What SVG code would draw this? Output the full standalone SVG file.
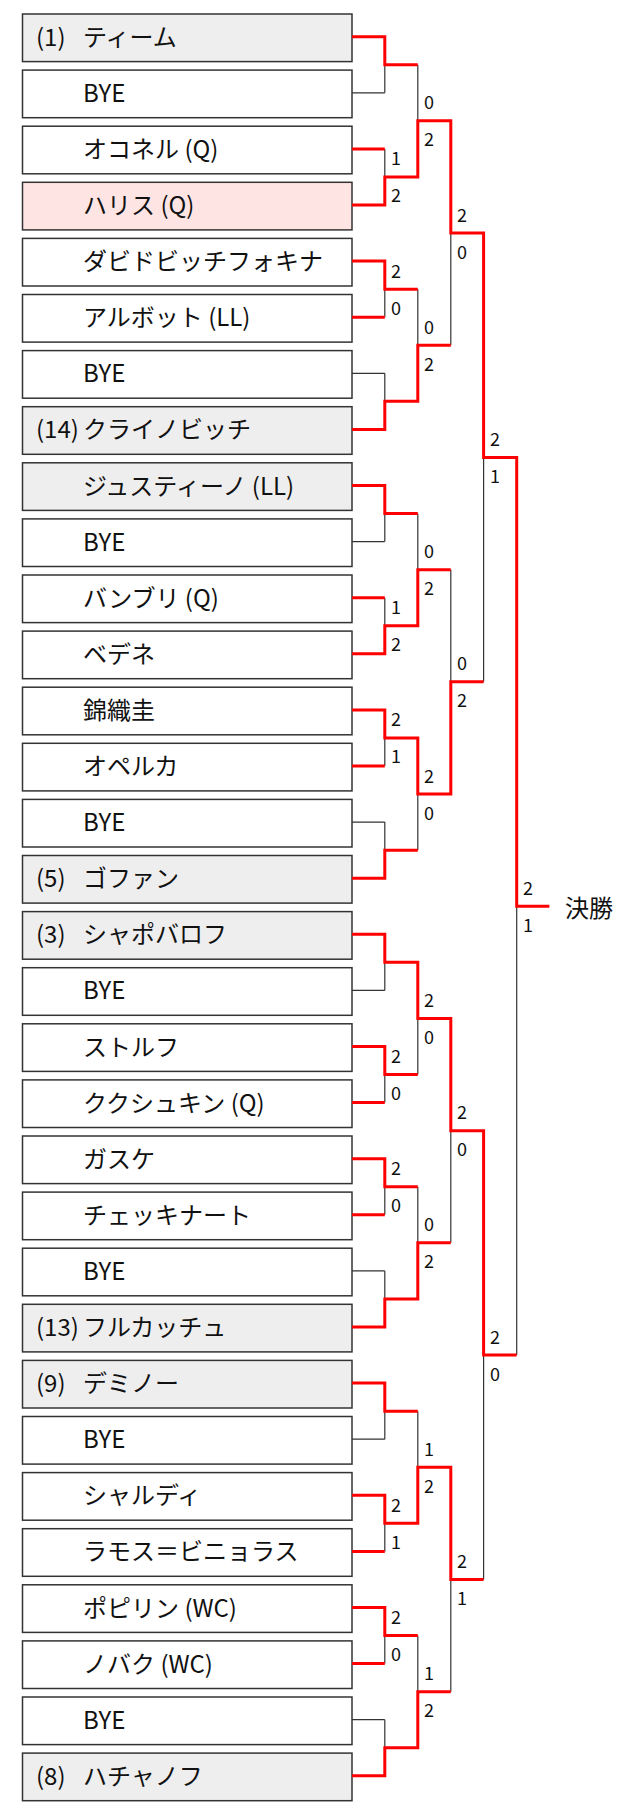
<svg xmlns="http://www.w3.org/2000/svg" width="630" height="1815" viewBox="0 0 630 1815">
<style>
.box{stroke:#333;stroke-width:1.5}
.w{fill:#fff}.g{fill:#eeeeee}.p{fill:#ffe4e4}
.nm{font-family:"Noto Sans CJK JP","Noto Sans",sans-serif;font-size:24px;fill:#111}
.sc{font-family:"Noto Sans CJK JP","Noto Sans",sans-serif;font-size:18px;fill:#111}
.thin{fill:none;stroke:#333;stroke-width:1.2}
.red{fill:none;stroke:#ff0000;stroke-width:3;stroke-linejoin:miter}
</style>
<rect width="630" height="1815" fill="#fff"/>
<g id="players">
<g id="p0"><rect class="box g" x="22.5" y="14" width="329.5" height="47.6"/><text class="nm" x="36" y="45.7">(1)</text><text class="nm" x="83" y="45.7">ティーム</text></g>
<g id="p1"><rect class="box w" x="22.5" y="70.1" width="329.5" height="47.6"/><text class="nm" x="83" y="101.8">BYE</text></g>
<g id="p2"><rect class="box w" x="22.5" y="126.2" width="329.5" height="47.6"/><text class="nm" x="83" y="157.9">オコネル (Q)</text></g>
<g id="p3"><rect class="box p" x="22.5" y="182.3" width="329.5" height="47.6"/><text class="nm" x="83" y="214">ハリス (Q)</text></g>
<g id="p4"><rect class="box w" x="22.5" y="238.4" width="329.5" height="47.6"/><text class="nm" x="83" y="270.1">ダビドビッチフォキナ</text></g>
<g id="p5"><rect class="box w" x="22.5" y="294.5" width="329.5" height="47.6"/><text class="nm" x="83" y="326.2">アルボット (LL)</text></g>
<g id="p6"><rect class="box w" x="22.5" y="350.6" width="329.5" height="47.6"/><text class="nm" x="83" y="382.3">BYE</text></g>
<g id="p7"><rect class="box g" x="22.5" y="406.7" width="329.5" height="47.6"/><text class="nm" x="36" y="438.4">(14)</text><text class="nm" x="83" y="438.4">クライノビッチ</text></g>
<g id="p8"><rect class="box g" x="22.5" y="462.8" width="329.5" height="47.6"/><text class="nm" x="83" y="494.5">ジュスティーノ (LL)</text></g>
<g id="p9"><rect class="box w" x="22.5" y="518.9" width="329.5" height="47.6"/><text class="nm" x="83" y="550.6">BYE</text></g>
<g id="p10"><rect class="box w" x="22.5" y="575" width="329.5" height="47.6"/><text class="nm" x="83" y="606.7">バンブリ (Q)</text></g>
<g id="p11"><rect class="box w" x="22.5" y="631.1" width="329.5" height="47.6"/><text class="nm" x="83" y="662.8">ベデネ</text></g>
<g id="p12"><rect class="box w" x="22.5" y="687.2" width="329.5" height="47.6"/><text class="nm" x="83" y="718.9">錦織圭</text></g>
<g id="p13"><rect class="box w" x="22.5" y="743.3" width="329.5" height="47.6"/><text class="nm" x="83" y="775">オペルカ</text></g>
<g id="p14"><rect class="box w" x="22.5" y="799.4" width="329.5" height="47.6"/><text class="nm" x="83" y="831.1">BYE</text></g>
<g id="p15"><rect class="box g" x="22.5" y="855.5" width="329.5" height="47.6"/><text class="nm" x="36" y="887.2">(5)</text><text class="nm" x="83" y="887.2">ゴファン</text></g>
<g id="p16"><rect class="box g" x="22.5" y="911.6" width="329.5" height="47.6"/><text class="nm" x="36" y="943.3">(3)</text><text class="nm" x="83" y="943.3">シャポバロフ</text></g>
<g id="p17"><rect class="box w" x="22.5" y="967.7" width="329.5" height="47.6"/><text class="nm" x="83" y="999.4">BYE</text></g>
<g id="p18"><rect class="box w" x="22.5" y="1023.8" width="329.5" height="47.6"/><text class="nm" x="83" y="1055.5">ストルフ</text></g>
<g id="p19"><rect class="box w" x="22.5" y="1079.9" width="329.5" height="47.6"/><text class="nm" x="83" y="1111.6">ククシュキン (Q)</text></g>
<g id="p20"><rect class="box w" x="22.5" y="1136" width="329.5" height="47.6"/><text class="nm" x="83" y="1167.7">ガスケ</text></g>
<g id="p21"><rect class="box w" x="22.5" y="1192.1" width="329.5" height="47.6"/><text class="nm" x="83" y="1223.8">チェッキナート</text></g>
<g id="p22"><rect class="box w" x="22.5" y="1248.2" width="329.5" height="47.6"/><text class="nm" x="83" y="1279.9">BYE</text></g>
<g id="p23"><rect class="box g" x="22.5" y="1304.3" width="329.5" height="47.6"/><text class="nm" x="36" y="1336">(13)</text><text class="nm" x="83" y="1336">フルカッチュ</text></g>
<g id="p24"><rect class="box g" x="22.5" y="1360.4" width="329.5" height="47.6"/><text class="nm" x="36" y="1392.1">(9)</text><text class="nm" x="83" y="1392.1">デミノー</text></g>
<g id="p25"><rect class="box w" x="22.5" y="1416.5" width="329.5" height="47.6"/><text class="nm" x="83" y="1448.2">BYE</text></g>
<g id="p26"><rect class="box w" x="22.5" y="1472.6" width="329.5" height="47.6"/><text class="nm" x="83" y="1504.3">シャルディ</text></g>
<g id="p27"><rect class="box w" x="22.5" y="1528.7" width="329.5" height="47.6"/><text class="nm" x="83" y="1560.4">ラモス＝ビニョラス</text></g>
<g id="p28"><rect class="box w" x="22.5" y="1584.8" width="329.5" height="47.6"/><text class="nm" x="83" y="1616.5">ポピリン (WC)</text></g>
<g id="p29"><rect class="box w" x="22.5" y="1640.9" width="329.5" height="47.6"/><text class="nm" x="83" y="1672.6">ノバク (WC)</text></g>
<g id="p30"><rect class="box w" x="22.5" y="1697" width="329.5" height="47.6"/><text class="nm" x="83" y="1728.7">BYE</text></g>
<g id="p31"><rect class="box g" x="22.5" y="1753.1" width="329.5" height="47.6"/><text class="nm" x="36" y="1784.8">(8)</text><text class="nm" x="83" y="1784.8">ハチャノフ</text></g>
</g>
<g id="connectors">
<g id="thin-lines" class="thin">
<path d="M352 92.8H384.8M352 373.3H384.8M352 541.6H384.8M352 822.1H384.8M352 990.4H384.8M352 1270.9H384.8M352 1439.2H384.8M352 1719.7H384.8"/>
<path d="M384.8 36.7V92.8M384.8 148.9V205M384.8 261.1V317.2M384.8 373.3V429.4M384.8 485.5V541.6M384.8 597.7V653.8M384.8 709.9V766M384.8 822.1V878.2M384.8 934.3V990.4M384.8 1046.5V1102.6M384.8 1158.7V1214.8M384.8 1270.9V1327M384.8 1383.1V1439.2M384.8 1495.3V1551.4M384.8 1607.5V1663.6M384.8 1719.7V1775.8"/>
<path d="M417.8 64.75V176.95M417.8 289.15V401.35M417.8 513.55V625.75M417.8 737.95V850.15M417.8 962.35V1074.55M417.8 1186.75V1298.95M417.8 1411.15V1523.35M417.8 1635.55V1747.75"/>
<path d="M450.8 120.85V345.25M450.8 569.65V794.05M450.8 1018.45V1242.85M450.8 1467.25V1691.65"/>
<path d="M483.6 233.05V681.85M483.6 1130.65V1579.45"/>
<path d="M516.7 457.45V1355.05"/>
</g>
<g id="red-lines" class="red">
<path d="M352 36.7H384.8V64.75H417.8"/>
<path d="M352 148.9H384.8"/>
<path d="M352 205H384.8V176.95H417.8V120.85H450.8V233.05H483.6V457.45H516.7V906.25H549.4"/>
<path d="M352 261.1H384.8V289.15H417.8"/>
<path d="M352 317.2H384.8"/>
<path d="M352 429.4H384.8V401.35H417.8V345.25H450.8"/>
<path d="M352 485.5H384.8V513.55H417.8"/>
<path d="M352 597.7H384.8"/>
<path d="M352 653.8H384.8V625.75H417.8V569.65H450.8"/>
<path d="M352 709.9H384.8V737.95H417.8V794.05H450.8V681.85H483.6"/>
<path d="M352 766H384.8"/>
<path d="M352 878.2H384.8V850.15H417.8"/>
<path d="M352 934.3H384.8V962.35H417.8V1018.45H450.8V1130.65H483.6V1355.05H516.7"/>
<path d="M352 1046.5H384.8V1074.55H417.8"/>
<path d="M352 1102.6H384.8"/>
<path d="M352 1158.7H384.8V1186.75H417.8"/>
<path d="M352 1214.8H384.8"/>
<path d="M352 1327H384.8V1298.95H417.8V1242.85H450.8"/>
<path d="M352 1383.1H384.8V1411.15H417.8"/>
<path d="M352 1495.3H384.8V1523.35H417.8V1467.25H450.8V1579.45H483.6"/>
<path d="M352 1551.4H384.8"/>
<path d="M352 1607.5H384.8V1635.55H417.8"/>
<path d="M352 1663.6H384.8"/>
<path d="M352 1775.8H384.8V1747.75H417.8V1691.65H450.8"/>
</g>
<g id="scores" class="sc">
<text x="391" y="165.45">1</text><text x="391" y="202.45">2</text>
<text x="391" y="277.65">2</text><text x="391" y="314.65">0</text>
<text x="391" y="614.25">1</text><text x="391" y="651.25">2</text>
<text x="391" y="726.45">2</text><text x="391" y="763.45">1</text>
<text x="391" y="1063.05">2</text><text x="391" y="1100.05">0</text>
<text x="391" y="1175.25">2</text><text x="391" y="1212.25">0</text>
<text x="391" y="1511.85">2</text><text x="391" y="1548.85">1</text>
<text x="391" y="1624.05">2</text><text x="391" y="1661.05">0</text>
<text x="424" y="109.35">0</text><text x="424" y="146.35">2</text>
<text x="424" y="333.75">0</text><text x="424" y="370.75">2</text>
<text x="424" y="558.15">0</text><text x="424" y="595.15">2</text>
<text x="424" y="782.55">2</text><text x="424" y="819.55">0</text>
<text x="424" y="1006.95">2</text><text x="424" y="1043.95">0</text>
<text x="424" y="1231.35">0</text><text x="424" y="1268.35">2</text>
<text x="424" y="1455.75">1</text><text x="424" y="1492.75">2</text>
<text x="424" y="1680.15">1</text><text x="424" y="1717.15">2</text>
<text x="457" y="221.55">2</text><text x="457" y="258.55">0</text>
<text x="457" y="670.35">0</text><text x="457" y="707.35">2</text>
<text x="457" y="1119.15">2</text><text x="457" y="1156.15">0</text>
<text x="457" y="1567.95">2</text><text x="457" y="1604.95">1</text>
<text x="490" y="445.95">2</text><text x="490" y="482.95">1</text>
<text x="490" y="1343.55">2</text><text x="490" y="1380.55">0</text>
<text x="523" y="894.75">2</text><text x="523" y="931.75">1</text>
</g>
</g>
<g id="final"><text class="nm" x="565" y="916.5">決勝</text></g>
</svg>
